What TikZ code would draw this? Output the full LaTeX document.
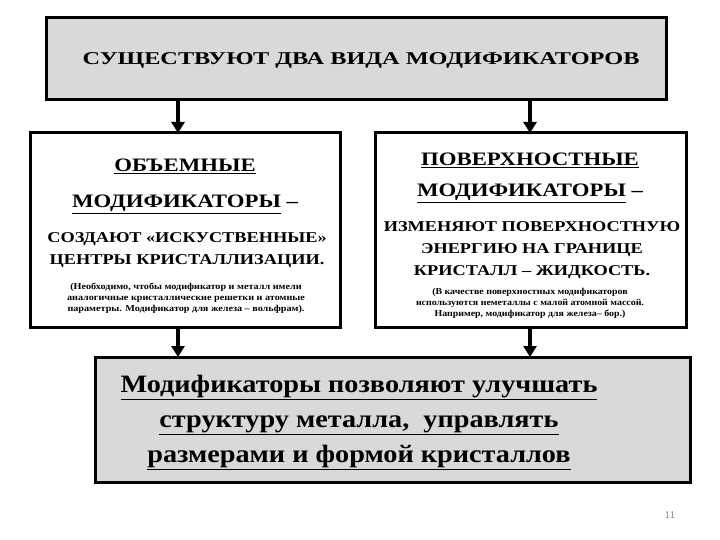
\documentclass[tikz,border=0pt]{standalone}
\usepackage{fontspec}
\setmainfont{Liberation Serif}
\usetikzlibrary{arrows.meta}
\definecolor{boxgray}{HTML}{D9D9D9}
\newcommand\hsx[2]{\scalebox{#1}[1]{#2}}
\tikzset{
 gbox/.style={draw=black,line width=3pt,fill=boxgray},
 wbox/.style={draw=black,line width=3pt,fill=white},
 arr/.style={line width=4pt,-{Triangle[width=13pt,length=11pt]}},
 txt/.style={align=center,inner sep=0pt}
}
\begin{document}
\begin{tikzpicture}[x=1pt,y=-1pt]
\useasboundingbox (0,0) rectangle (720,540);
\draw[gbox] (46,18) rectangle (666,100);
\node[txt,font=\bfseries\fontsize{18}{21}\selectfont] (t) at (361,60) {\hsx{1.35}{СУЩЕСТВУЮТ ДВА ВИДА МОДИФИКАТОРОВ}};
\draw[wbox] (30,133) rectangle (340,327);
\draw[wbox] (375,133) rectangle (686,327);
\draw[gbox] (95,357) rectangle (690,482);
\coordinate (a1) at (178,101); \coordinate (a1e) at (178,133);
\coordinate (a2) at (530,101); \coordinate (a2e) at (530,133);
\coordinate (b1) at (178,328); \coordinate (b1e) at (178,357);
\coordinate (b2) at (530,328); \coordinate (b2e) at (530,357);
\draw[arr] (a1) -- (a1e); \draw[arr] (a2) -- (a2e);
\draw[arr] (b1) -- (b1e); \draw[arr] (b2) -- (b2e);
% left
\node[txt,font=\bfseries\fontsize{19}{21}\selectfont] (l1) at (185,166) {\hsx{1.2}{\underline{ОБЪЕМНЫЕ}}};
\node[txt,font=\bfseries\fontsize{19}{21}\selectfont] (l2) at (185,204) {\hsx{1.2}{\underline{МОДИФИКАТОРЫ} –}};
\node[txt,font=\bfseries\fontsize{15}{22}\selectfont] (l3) at (187,250) {\hsx{1.22}{СОЗДАЮТ «ИСКУСТВЕННЫЕ»}\\\hsx{1.22}{ЦЕНТРЫ КРИСТАЛЛИЗАЦИИ.}};
\node[txt,font=\bfseries\fontsize{9}{11}\selectfont] (l4) at (186,298) {\hsx{1.13}{(Необходимо, чтобы модификатор и металл имели}\\\hsx{1.13}{аналогичные кристаллические решетки и атомные}\\\hsx{1.13}{параметры. Модификатор для железа – вольфрам).}};
% right
\node[txt,font=\bfseries\fontsize{19}{21}\selectfont] (r1) at (530,160) {\hsx{1.2}{\underline{ПОВЕРХНОСТНЫЕ}}};
\node[txt,font=\bfseries\fontsize{19}{21}\selectfont] (r2) at (530,193) {\hsx{1.2}{\underline{МОДИФИКАТОРЫ} –}};
\node[txt,font=\bfseries\fontsize{15}{22}\selectfont] (r3) at (532,250) {\hsx{1.22}{ИЗМЕНЯЮТ ПОВЕРХНОСТНУЮ}\\\hsx{1.22}{ЭНЕРГИЮ НА ГРАНИЦЕ}\\\hsx{1.22}{КРИСТАЛЛ – ЖИДКОСТЬ.}};
\node[txt,font=\bfseries\fontsize{9}{11}\selectfont] (r4) at (530,303) {\hsx{1.1}{(В качестве поверхностных модификаторов}\\\hsx{1.1}{используются неметаллы с малой атомной массой.}\\\hsx{1.1}{Например, модификатор для железа– бор.)}};
% bottom
\node[txt,font=\bfseries\fontsize{25}{35}\selectfont] (bt) at (359,422) {\hsx{1.13}{\underline{Модификаторы позволяют улучшать}}\\\hsx{1.13}{\underline{структуру металла,\ \ управлять}}\\\hsx{1.13}{\underline{размерами и формой кристаллов}}};
\node[txt,font=\sffamily\fontsize{10}{12}\selectfont,text=gray] (pn) at (670,515) {11};
\end{tikzpicture}
\end{document}
